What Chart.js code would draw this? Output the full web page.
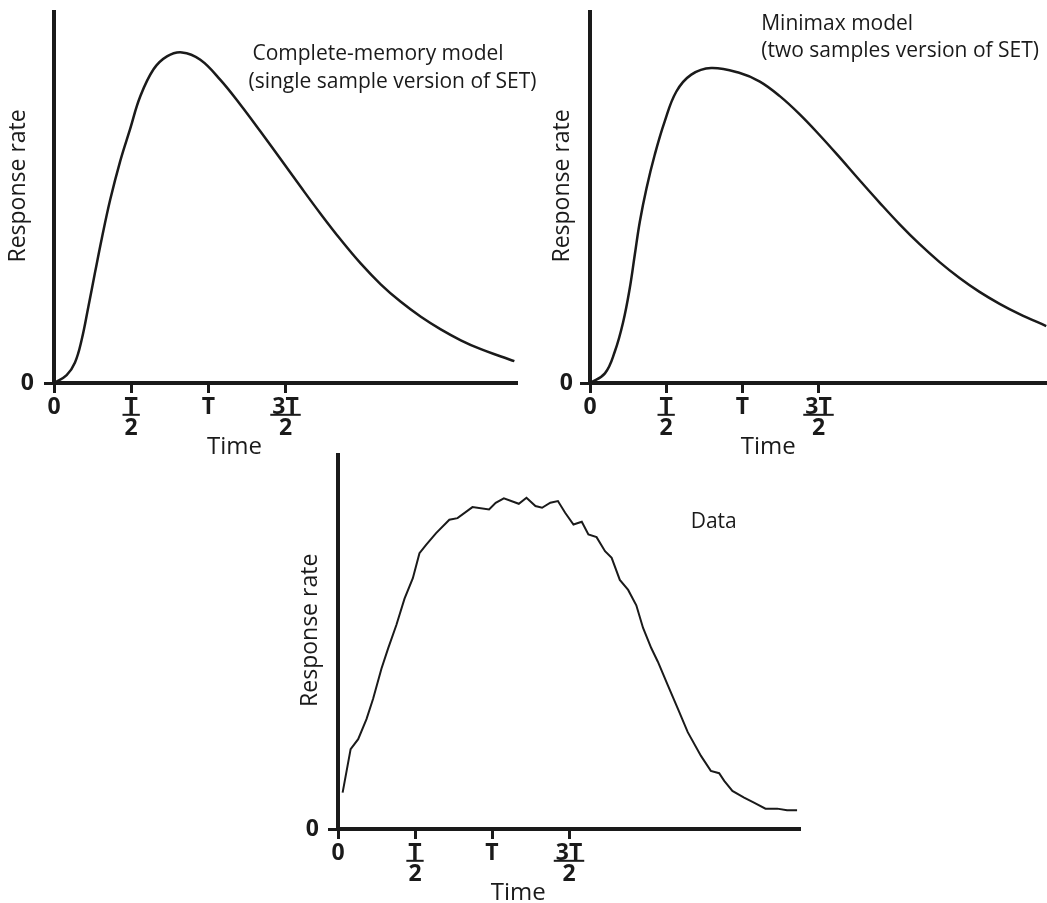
<!DOCTYPE html>
<html>
<head>
<meta charset="utf-8">
<script src="https://cdn.jsdelivr.net/npm/chart.js@4/dist/chart.umd.min.js"></script>
<style>
  body { margin: 0; background: #ffffff; }
  #wrap { position: relative; width: 1047px; height: 903px; overflow: hidden; background: #ffffff; }
  #wrap canvas { position: absolute; }
</style>
</head>
<body>
<div id="wrap">
  <canvas id="c1" width="560" height="460" style="left:0px;top:0px"></canvas>
  <canvas id="c2" width="527" height="460" style="left:520px;top:0px"></canvas>
  <canvas id="c3" width="513" height="453" style="left:290px;top:450px"></canvas>
</div>
<script>
var fontFamily = "'Open Sans', 'DejaVu Sans', sans-serif";
var inkColor = "#1a1a1a";

// time in units of T, rate in arbitrary units (peak of the first model = 100)
var timeTicks = [0, 0.5, 1, 1.5];
var tickLabels = ["0", ["T", "2"], "T", ["3T", "2"]];

var completeTime = [0, 0.082, 0.136, 0.18, 0.223, 0.266, 0.31, 0.364, 0.429, 0.494, 0.558, 0.645, 0.732, 0.829, 0.948, 1.078, 1.208, 1.338, 1.468, 1.597, 1.727, 1.857, 1.987, 2.117, 2.247, 2.377, 2.506, 2.636, 2.766, 2.896, 2.983];
var completeRate = [0, 2.4, 6.2, 13.2, 23.1, 33.4, 43.7, 55.3, 67.0, 76.8, 86.4, 94.7, 98.6, 99.8, 97.6, 91.5, 84.0, 75.9, 67.6, 59.3, 51.1, 43.3, 36.1, 29.8, 24.5, 20.0, 16.2, 12.9, 10.2, 8.0, 6.6];

var minimaxTime = [0, 0.098, 0.163, 0.218, 0.261, 0.294, 0.327, 0.371, 0.425, 0.49, 0.567, 0.665, 0.795, 0.984, 1.115, 1.246, 1.377, 1.508, 1.639, 1.77, 1.902, 2.033, 2.164, 2.295, 2.426, 2.557, 2.689, 2.82, 2.995];
var minimaxRate = [0, 2.9, 9.5, 18.5, 28.6, 38.7, 48.7, 58.8, 68.9, 78.9, 88, 93.1, 95.1, 93.6, 91.0, 86.6, 81.1, 74.8, 68.1, 61.2, 54.4, 47.9, 41.9, 36.5, 31.7, 27.5, 23.9, 20.8, 17.2];

var dataTime = [0.03, 0.082, 0.131, 0.185, 0.228, 0.282, 0.325, 0.379, 0.432, 0.486, 0.529, 0.572, 0.637, 0.723, 0.776, 0.873, 0.981, 1.024, 1.077, 1.174, 1.224, 1.282, 1.325, 1.379, 1.428, 1.475, 1.529, 1.583, 1.626, 1.679, 1.734, 1.777, 1.83, 1.884, 1.937, 1.981, 2.034, 2.077, 2.142, 2.206, 2.271, 2.357, 2.421, 2.475, 2.508, 2.561, 2.637, 2.701, 2.776, 2.852, 2.916, 2.981];
var dataRate = [10.9, 23.9, 26.9, 32.9, 39, 48, 54, 61.1, 69, 75.1, 82.6, 85.1, 88.6, 92.6, 93.1, 96.4, 95.7, 97.7, 99, 97.4, 99.2, 96.7, 96.2, 97.7, 98.2, 94.7, 91.2, 92, 88.2, 87.4, 83.2, 81.2, 74.6, 71.6, 67, 60.2, 54.2, 50.1, 43, 36.1, 29, 21.9, 17.4, 16.7, 14.4, 11.4, 9.4, 7.9, 6.1, 6.1, 5.6, 5.6];

function toPoints(xs, ys) {
  var pts = [];
  for (var i = 0; i < xs.length; i++) pts.push({ x: xs[i], y: ys[i] });
  return pts;
}

// fraction bars under T/2 and 3T/2, axis titles and the panel notes
var extrasPlugin = {
  id: "extras",
  afterDraw: function (chart, args, opts) {
    var ctx = chart.ctx;
    var xs = chart.scales.x;
    var ys = chart.scales.y;
    var tf = xs.options.ticks.font;
    ctx.save();
    ctx.fillStyle = inkColor;
    ctx.strokeStyle = inkColor;

    ctx.font = "bold " + tf.size + "px " + fontFamily;
    ctx.lineWidth = 2;
    for (var i = 0; i < timeTicks.length; i++) {
      var lab = tickLabels[i];
      if (!Array.isArray(lab)) continue;
      var px = xs.getPixelForValue(timeTicks[i]);
      var w = ctx.measureText(lab[0]).width + 4;
      var by = xs.top + 10 + xs.options.ticks.padding + tf.size * tf.lineHeight * 0.86;
      ctx.beginPath();
      ctx.moveTo(px - w / 2, by);
      ctx.lineTo(px + w / 2, by);
      ctx.stroke();
    }

    // x title
    ctx.font = "24px " + fontFamily;
    ctx.textAlign = "center";
    ctx.textBaseline = "alphabetic";
    ctx.fillText("Time", xs.getPixelForValue(1.17), chart.chartArea.bottom + 71);

    // y title
    ctx.save();
    ctx.font = "23px " + fontFamily;
    ctx.textBaseline = "middle";
    ctx.translate(opts.titleX, ys.getPixelForValue(59.5));
    ctx.rotate(-Math.PI / 2);
    ctx.fillText("Response rate", 0, 0);
    ctx.restore();

    ctx.font = "21px " + fontFamily;
    ctx.textAlign = "left";
    var notes = opts.notes || [];
    for (var j = 0; j < notes.length; j++) {
      ctx.fillText(notes[j].text, xs.getPixelForValue(notes[j].t), ys.getPixelForValue(notes[j].v));
    }
    ctx.restore();
  }
};

function makePanel(canvasId, pts, lineWidth, p) {
  return new Chart(document.getElementById(canvasId), {
    type: "line",
    data: {
      datasets: [{
        data: pts,
        borderColor: inkColor,
        borderWidth: lineWidth,
        pointRadius: 0,
        tension: p.tension,
        fill: false
      }]
    },
    options: {
      responsive: false,
      animation: false,
      events: [],
      layout: { padding: { left: 0, top: p.top, right: p.right, bottom: 0 } },
      plugins: {
        legend: { display: false },
        tooltip: { enabled: false },
        extras: { notes: p.notes, titleX: p.titleX }
      },
      scales: {
        x: {
          type: "linear",
          min: 0,
          max: 3,
          afterBuildTicks: function (scale) {
            scale.ticks = timeTicks.map(function (v) { return { value: v }; });
          },
          afterFit: function (scale) {
            scale.height = p.xAxisHeight;
            scale.paddingLeft = 0;
            scale.paddingRight = 0;
          },
          ticks: {
            autoSkip: false,
            maxRotation: 0,
            padding: 4,
            color: inkColor,
            font: { family: fontFamily, size: 23, weight: "bold", lineHeight: 0.9 },
            callback: function (value, index) { return tickLabels[index]; }
          },
          grid: { drawOnChartArea: false, drawTicks: true, tickLength: 10, tickWidth: 3, color: inkColor },
          border: { display: true, width: 4, color: inkColor }
        },
        y: {
          min: 0,
          max: 112,
          afterBuildTicks: function (scale) { scale.ticks = [{ value: 0 }]; },
          afterFit: function (scale) {
            scale.width = p.yAxisWidth;
            scale.paddingTop = 0;
            scale.paddingBottom = 0;
          },
          ticks: {
            padding: p.yTickPad,
            color: inkColor,
            font: { family: fontFamily, size: 23, weight: "bold" },
            callback: function () { return "0"; }
          },
          grid: { drawOnChartArea: false, drawTicks: true, tickLength: 10, tickWidth: 3, color: inkColor },
          border: { display: true, width: 4, color: inkColor }
        }
      }
    },
    plugins: [extrasPlugin]
  });
}

makePanel("c1", toPoints(completeTime, completeRate), 2.5, {
  tension: 0.4, top: 12, right: 43, xAxisHeight: 77, yAxisWidth: 54, yTickPad: 10, titleX: 18,
  notes: [
    { t: 1.286, v: 97.6, text: "Complete-memory model" },
    { t: 1.26, v: 89.1, text: "(single sample version of SET)" }
  ]
});

makePanel("c2", toPoints(minimaxTime, minimaxRate), 2.5, {
  tension: 0.4, top: 12, right: 0, xAxisHeight: 77, yAxisWidth: 70, yTickPad: 7, titleX: 42,
  notes: [
    { t: 1.124, v: 106.6, text: "Minimax model" },
    { t: 1.124, v: 98.5, text: "(two samples version of SET)" }
  ]
});

makePanel("c3", toPoints(dataTime, dataRate), 2, {
  tension: 0, top: 5, right: 3, xAxisHeight: 74, yAxisWidth: 48, yTickPad: 9, titleX: 20,
  notes: [
    { t: 2.29, v: 90, text: "Data" }
  ]
});
</script>
</body>
</html>
